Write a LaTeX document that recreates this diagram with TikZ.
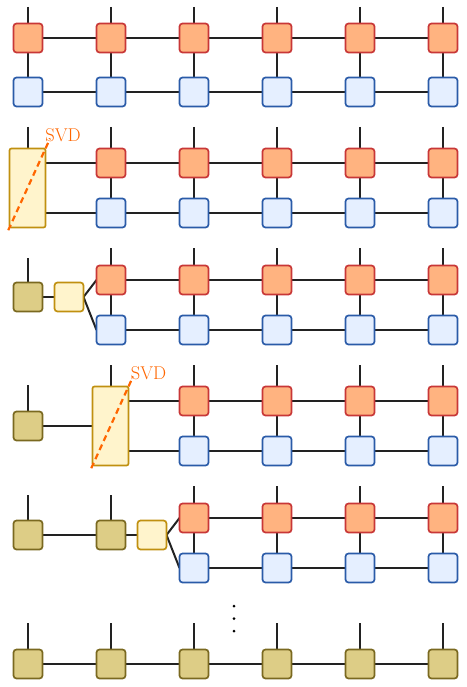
\documentclass[tikz,border=0pt]{standalone}
\usetikzlibrary{calc,backgrounds}
\definecolor{orF}{HTML}{FFB380}
\definecolor{orD}{HTML}{C83737}
\definecolor{blF}{HTML}{E5EFFF}
\definecolor{blD}{HTML}{2A5BA8}
\definecolor{khF}{HTML}{DDCD86}
\definecolor{khD}{HTML}{7A6920}
\definecolor{ylF}{HTML}{FFF4CC}
\definecolor{ylD}{HTML}{C09010}
\definecolor{svdC}{HTML}{FF6600}
\definecolor{lnC}{HTML}{222222}
\begin{document}
\begin{tikzpicture}[x=1pt,y=-1pt,
 box/.style={rounded corners=3pt, line width=1.7pt, minimum size=29pt, inner sep=0pt, outer sep=0pt},
 ten/.style={box, draw=orD, fill=orF},
 bten/.style={box, draw=blD, fill=blF},
 kten/.style={box, draw=khD, fill=khF},
 yten/.style={box, draw=ylD, fill=ylF},
 ybig/.style={rounded corners=2pt, line width=1.7pt, draw=ylD, fill=ylF, minimum width=36pt, minimum height=79pt, inner sep=0pt, outer sep=0pt},
 bond/.style={draw=lnC, line width=2pt},
 svdline/.style={draw=svdC, line width=2.2pt, dash pattern=on 6pt off 4pt},
 svdtext/.style={text=svdC, font=\fontsize{18.5}{20}\selectfont, inner sep=0pt},
 dot/.style={circle, fill=black, inner sep=0pt, minimum size=3pt}]
\useasboundingbox (0,0) rectangle (466,687);

% ---------- Row 1 ----------
\foreach \i/\x in {1/28,2/111,3/194,4/277,5/360,6/443}{
  \node[ten]  (a1\i) at (\x,38) {};
  \node[bten] (b1\i) at (\x,92) {};
  \coordinate (t1\i) at (\x,7);
}
% ---------- Row 2 ----------
\node[ybig] (R2) at (27.5,188) {};
\coordinate (tR2) at (27.5,127);
\foreach \i/\x in {2/111,3/194,4/277,5/360,6/443}{
  \node[ten]  (a2\i) at (\x,163) {};
  \node[bten] (b2\i) at (\x,213) {};
  \coordinate (t2\i) at (\x,127);
}
% ---------- Row 3 ----------
\node[kten] (k3) at (28,297) {};
\coordinate (tk3) at (28,258);
\node[yten] (y3) at (69,297) {};
\foreach \i/\x in {2/111,3/194,4/277,5/360,6/443}{
  \node[ten]  (a3\i) at (\x,280) {};
  \node[bten] (b3\i) at (\x,330) {};
  \coordinate (t3\i) at (\x,248);
}
% ---------- Row 4 ----------
\node[kten] (k4) at (28,426) {};
\coordinate (tk4) at (28,385);
\node[ybig] (R4) at (110.5,426) {};
\coordinate (tR4) at (110.5,365);
\foreach \i/\x in {3/194,4/277,5/360,6/443}{
  \node[ten]  (a4\i) at (\x,401) {};
  \node[bten] (b4\i) at (\x,451) {};
  \coordinate (t4\i) at (\x,365);
}
% ---------- Row 5 ----------
\node[kten] (k51) at (28,535) {};
\node[kten] (k52) at (111,535) {};
\coordinate (tk51) at (28,495);
\coordinate (tk52) at (111,495);
\node[yten] (y5) at (152,535) {};
\foreach \i/\x in {3/194,4/277,5/360,6/443}{
  \node[ten]  (a5\i) at (\x,518) {};
  \node[bten] (b5\i) at (\x,568) {};
  \coordinate (t5\i) at (\x,486);
}
% ---------- Row 6 ----------
\foreach \i/\x in {1/28,2/111,3/194,4/277,5/360,6/443}{
  \node[kten] (k6\i) at (\x,664) {};
  \coordinate (t6\i) at (\x,623);
}
\node[dot] (d1) at (234,606) {};
\node[dot] (d2) at (234,618.5) {};
\node[dot] (d3) at (234,631) {};

% ---------- bonds ----------
\begin{pgfonlayer}{background}
% row 1
\foreach \i in {1,...,6}{
  \draw[bond] (t1\i) -- (a1\i);
  \draw[bond] (a1\i) -- (b1\i);
}
\foreach \i/\j in {1/2,2/3,3/4,4/5,5/6}{
  \draw[bond] (a1\i) -- (a1\j);
  \draw[bond] (b1\i) -- (b1\j);
}
% row 2
\draw[bond] (tR2) -- (R2.north);
\foreach \i in {2,...,6}{
  \draw[bond] (t2\i) -- (a2\i);
  \draw[bond] (a2\i) -- (b2\i);
}
\draw[bond] (R2.east |- a22.west) -- (a22.west);
\draw[bond] (R2.east |- b22.west) -- (b22.west);
\foreach \i/\j in {2/3,3/4,4/5,5/6}{
  \draw[bond] (a2\i) -- (a2\j);
  \draw[bond] (b2\i) -- (b2\j);
}
% row 3
\draw[bond] (tk3) -- (k3);
\draw[bond] (k3) -- (y3);
\draw[bond] (y3.east) -- (a32.west);
\draw[bond] (y3.east) -- (b32.west);
\foreach \i in {2,...,6}{
  \draw[bond] (t3\i) -- (a3\i);
  \draw[bond] (a3\i) -- (b3\i);
}
\foreach \i/\j in {2/3,3/4,4/5,5/6}{
  \draw[bond] (a3\i) -- (a3\j);
  \draw[bond] (b3\i) -- (b3\j);
}
% row 4
\draw[bond] (tk4) -- (k4);
\draw[bond] (k4) -- (R4);
\draw[bond] (tR4) -- (R4.north);
\draw[bond] (R4.east |- a43.west) -- (a43.west);
\draw[bond] (R4.east |- b43.west) -- (b43.west);
\foreach \i in {3,...,6}{
  \draw[bond] (t4\i) -- (a4\i);
  \draw[bond] (a4\i) -- (b4\i);
}
\foreach \i/\j in {3/4,4/5,5/6}{
  \draw[bond] (a4\i) -- (a4\j);
  \draw[bond] (b4\i) -- (b4\j);
}
% row 5
\draw[bond] (tk51) -- (k51);
\draw[bond] (tk52) -- (k52);
\draw[bond] (k51) -- (k52);
\draw[bond] (k52) -- (y5);
\draw[bond] (y5.east) -- (a53.west);
\draw[bond] (y5.east) -- (b53.west);
\foreach \i in {3,...,6}{
  \draw[bond] (t5\i) -- (a5\i);
  \draw[bond] (a5\i) -- (b5\i);
}
\foreach \i/\j in {3/4,4/5,5/6}{
  \draw[bond] (a5\i) -- (a5\j);
  \draw[bond] (b5\i) -- (b5\j);
}
% row 6
\foreach \i in {1,...,6}{
  \draw[bond] (t6\i) -- (k6\i);
}
\foreach \i/\j in {1/2,2/3,3/4,4/5,5/6}{
  \draw[bond] (k6\i) -- (k6\j);
}
\end{pgfonlayer}

% ---------- SVD marks ----------
\draw[svdline, shorten <=-3pt, shorten >=-11pt] (R2.south west) -- (R2.north east);
\node[svdtext] (s2) at ($(R2.north east)+(17.5,-13)$) {SVD};
\draw[svdline, shorten <=-3pt, shorten >=-11pt] (R4.south west) -- (R4.north east);
\node[svdtext] (s4) at ($(R4.north east)+(20,-13)$) {SVD};
\end{tikzpicture}
\end{document}
